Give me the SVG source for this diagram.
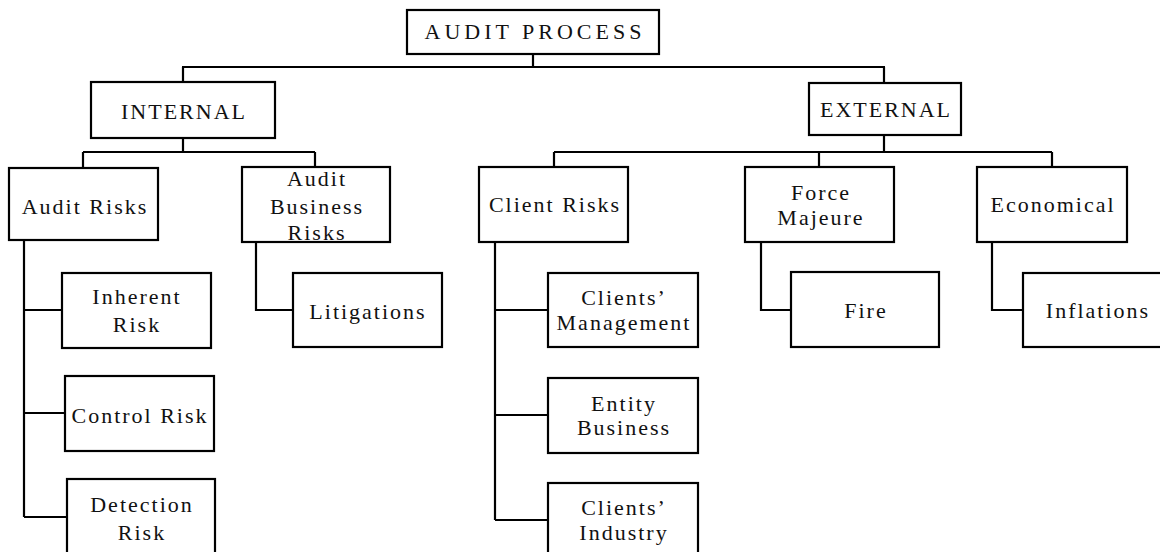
<svg xmlns="http://www.w3.org/2000/svg" width="1160" height="552" viewBox="0 0 1160 552">
  <style>
    .box { fill: #ffffff; stroke: #000000; stroke-width: 2.2; }
    .lbl { font-family: 'Liberation Serif', Tinos, 'DejaVu Serif', serif; font-size: 22px; letter-spacing: 2px; fill: #111111; text-anchor: middle; }
    .wide { letter-spacing: 4px; }
    .wire { fill: none; stroke: #000000; stroke-width: 2.2; }
  </style>
  <rect x="0" y="0" width="1160" height="552" fill="#ffffff"/>

  <!-- tree connectors -->
  <g id="connectors" class="wire">
    <path d="M533 54 V67 M182 67 H885 M183 67 V82 M884 67 V83"/>
    <path d="M183 138 V152 M83 152 H315 M83 152 V168 M315 152 V167"/>
    <path d="M884 135 V152 M554 152 H1052 M554 152 V167 M819 152 V167 M1052 152 V167"/>
    <path d="M24 240 V517 M24 310 H62 M24 413 H65 M24 517 H67"/>
    <path d="M256 242 V310 H293"/>
    <path d="M495 242 V520 M495 310 H548 M495 415 H548 M495 520 H548"/>
    <path d="M761 242 V310 H791"/>
    <path d="M992 242 V310 H1023"/>
  </g>

  <g id="audit-process">
    <rect class="box" x="407" y="10" width="252" height="44"/>
    <text class="lbl wide" font-family="Liberation Serif, serif" x="535" y="39">AUDIT PROCESS</text>
  </g>

  <g id="internal">
    <rect class="box" x="91" y="82" width="184" height="56"/>
    <text class="lbl" font-family="Liberation Serif, serif" x="184" y="119">INTERNAL</text>
  </g>

  <g id="external">
    <rect class="box" x="809" y="83" width="152" height="52"/>
    <text class="lbl" font-family="Liberation Serif, serif" x="886" y="117">EXTERNAL</text>
  </g>

  <g id="audit-risks">
    <rect class="box" x="9" y="168" width="149" height="72"/>
    <text class="lbl" font-family="Liberation Serif, serif" x="85" y="214">Audit Risks</text>
  </g>

  <g id="audit-business-risks">
    <rect class="box" x="242" y="167" width="148" height="75"/>
    <text class="lbl" font-family="Liberation Serif, serif" x="317"><tspan x="317" y="186">Audit</tspan><tspan x="317" y="214">Business</tspan><tspan x="317" y="240">Risks</tspan></text>
  </g>

  <g id="inherent-risk">
    <rect class="box" x="62" y="273" width="149" height="75"/>
    <text class="lbl" font-family="Liberation Serif, serif" x="137"><tspan x="137" y="304">Inherent</tspan><tspan x="137" y="332">Risk</tspan></text>
  </g>

  <g id="control-risk">
    <rect class="box" x="65" y="376" width="149" height="75"/>
    <text class="lbl" font-family="Liberation Serif, serif" x="140" y="423">Control Risk</text>
  </g>

  <g id="detection-risk">
    <rect class="box" x="67" y="479" width="148" height="80"/>
    <text class="lbl" font-family="Liberation Serif, serif" x="142"><tspan x="142" y="512">Detection</tspan><tspan x="142" y="540">Risk</tspan></text>
  </g>

  <g id="litigations">
    <rect class="box" x="293" y="273" width="149" height="74"/>
    <text class="lbl" font-family="Liberation Serif, serif" x="368" y="319">Litigations</text>
  </g>

  <g id="client-risks">
    <rect class="box" x="479" y="167" width="149" height="75"/>
    <text class="lbl" font-family="Liberation Serif, serif" x="555" y="212">Client Risks</text>
  </g>

  <g id="clients-management">
    <rect class="box" x="548" y="273" width="150" height="74"/>
    <text class="lbl" font-family="Liberation Serif, serif" x="624"><tspan x="624" y="305">Clients’</tspan><tspan x="624" y="330">Management</tspan></text>
  </g>

  <g id="entity-business">
    <rect class="box" x="548" y="378" width="150" height="75"/>
    <text class="lbl" font-family="Liberation Serif, serif" x="624"><tspan x="624" y="411">Entity</tspan><tspan x="624" y="435">Business</tspan></text>
  </g>

  <g id="clients-industry">
    <rect class="box" x="548" y="483" width="150" height="80"/>
    <text class="lbl" font-family="Liberation Serif, serif" x="624"><tspan x="624" y="515">Clients’</tspan><tspan x="624" y="540">Industry</tspan></text>
  </g>

  <g id="force-majeure">
    <rect class="box" x="745" y="167" width="149" height="75"/>
    <text class="lbl" font-family="Liberation Serif, serif" x="821"><tspan x="821" y="200">Force</tspan><tspan x="821" y="225">Majeure</tspan></text>
  </g>

  <g id="fire">
    <rect class="box" x="791" y="272" width="148" height="75"/>
    <text class="lbl" font-family="Liberation Serif, serif" x="866" y="318">Fire</text>
  </g>

  <g id="economical">
    <rect class="box" x="977" y="167" width="150" height="75"/>
    <text class="lbl" font-family="Liberation Serif, serif" x="1053" y="212">Economical</text>
  </g>

  <g id="inflations">
    <rect class="box" x="1023" y="273" width="150" height="74"/>
    <text class="lbl" font-family="Liberation Serif, serif" x="1098" y="318">Inflations</text>
  </g>
</svg>
